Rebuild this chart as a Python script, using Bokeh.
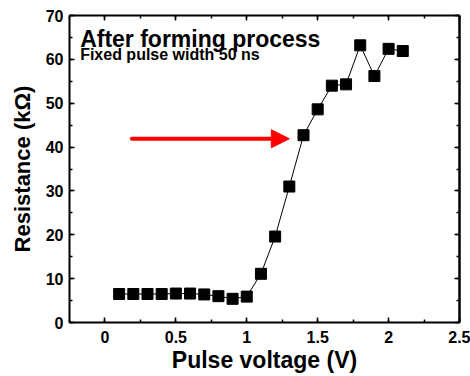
from bokeh.plotting import figure
from bokeh.models import (Range1d, LinearAxis, SingleIntervalTicker, Label, Arrow,
                          NormalHead, ColumnDataSource, CustomJSTickFormatter)
from bokeh.embed import file_html
from bokeh.resources import INLINE

voltage = [0.1, 0.2, 0.3, 0.4, 0.5, 0.6, 0.7, 0.8, 0.9, 1.0, 1.1,
           1.2, 1.3, 1.4, 1.5, 1.6, 1.7, 1.8, 1.9, 2.0, 2.1]
resistance = [6.5, 6.5, 6.5, 6.5, 6.6, 6.6, 6.4, 6.0, 5.4, 5.9, 11.1,
              19.6, 31.0, 42.7, 48.6, 54.0, 54.3, 63.2, 56.2, 62.4, 61.9]
x_ticks_interval = 0.5
y_ticks_interval = 10
title_text = "After forming process"
subtitle_text = "Fixed pulse width 50 ns"
arrow_start = (0.19, 41.9)
arrow_end = (1.30, 41.9)

FONT = "Liberation Sans"

p = figure(width=470, height=376, output_backend="svg", toolbar_location=None,
           x_range=Range1d(-0.25, 2.5), y_range=Range1d(0, 70),
           min_border_left=69, min_border_right=11, min_border_top=15, min_border_bottom=54,
           x_axis_label="Pulse voltage (V)", y_axis_label="Resistance (kΩ)")
p.grid.visible = False
p.outline_line_color = None
p.background_fill_color = "white"

xt = SingleIntervalTicker(interval=x_ticks_interval, num_minor_ticks=2)
yt = SingleIntervalTicker(interval=y_ticks_interval, num_minor_ticks=2)


def style_axis(ax, ticker, show_labels):
    ax.ticker = ticker
    ax.axis_line_width = 2
    ax.axis_line_color = "black"
    ax.major_tick_in = 5
    ax.major_tick_out = 0
    ax.minor_tick_in = 3
    ax.minor_tick_out = 0
    ax.major_tick_line_width = 1.5
    ax.minor_tick_line_width = 1.5
    ax.major_tick_line_color = "black"
    ax.minor_tick_line_color = "black"
    if show_labels:
        ax.major_label_text_font = FONT
        ax.major_label_text_font_style = "bold"
        ax.major_label_text_font_size = "16px"
        ax.major_label_text_color = "black"
        ax.axis_label_text_font = FONT
        ax.axis_label_text_font_style = "bold"
        ax.axis_label_text_color = "black"
    else:
        ax.formatter = CustomJSTickFormatter(code="return ''")
        ax.major_label_standoff = 0


style_axis(p.xaxis[0], xt, True)
style_axis(p.yaxis[0], yt, True)
p.xaxis[0].axis_label_text_font_size = "23px"
p.yaxis[0].axis_label_text_font_size = "22px"
p.xaxis[0].major_label_standoff = 8
p.xaxis[0].axis_label_standoff = 1
p.yaxis[0].major_label_standoff = 6
p.yaxis[0].axis_label_standoff = 8

top_ax = LinearAxis()
style_axis(top_ax, SingleIntervalTicker(interval=x_ticks_interval, num_minor_ticks=2), False)
p.add_layout(top_ax, "above")
right_ax = LinearAxis()
style_axis(right_ax, SingleIntervalTicker(interval=y_ticks_interval, num_minor_ticks=2), False)
right_ax.axis_line_width = 2.5
p.add_layout(right_ax, "right")

src = ColumnDataSource(dict(x=voltage, y=resistance))
p.line("x", "y", source=src, line_color="black", line_width=1)
p.scatter("x", "y", source=src, marker="square", size=11,
          fill_color="black", line_color="black")

p.add_layout(Label(x=-0.175, y=67.5, text=title_text, text_font=FONT,
                   text_font_style="bold", text_font_size="23px", text_color="black",
                   text_baseline="top"))
p.add_layout(Label(x=-0.175, y=63.0, text=subtitle_text, text_font=FONT,
                   text_font_style="bold", text_font_size="16px", text_color="black",
                   text_baseline="top"))

p.add_layout(Arrow(x_start=arrow_start[0], y_start=arrow_start[1],
                   x_end=arrow_end[0], y_end=arrow_end[1],
                   line_color="red", line_width=4, line_cap="round",
                   end=NormalHead(size=18, fill_color="red", line_color="red")))

open("out.html", "w").write(file_html(p, INLINE))
